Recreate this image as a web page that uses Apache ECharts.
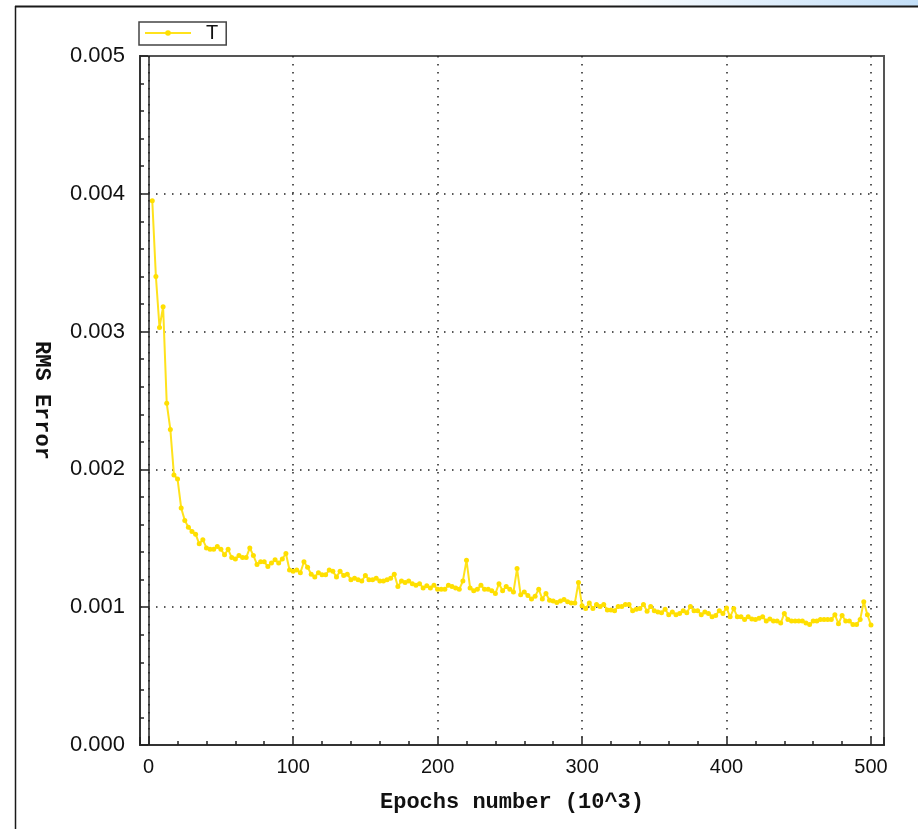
<!DOCTYPE html>
<html>
<head>
<meta charset="utf-8">
<script src="https://cdn.jsdelivr.net/npm/echarts@6.0.0/dist/echarts.min.js"></script>
<style>
  html, body { margin: 0; padding: 0; background: #fff; }
  #chart { width: 918px; height: 829px; }
</style>
</head>
<body>
<div id="chart"></div>
<script>
// ---- Data ----
const seriesName = 'T';
const epochStep = 2.5;           // sampling step of the epochs (10^3)
const rmsError = [
  0.00395, 0.00340, 0.00303, 0.00318, 0.00248, 0.00229, 0.00196, 0.00193, 0.00172, 0.00163,
  0.00158, 0.00155, 0.00153, 0.00146, 0.00149, 0.00143, 0.00142, 0.00142, 0.00144, 0.00142,
  0.00138, 0.00142, 0.00136, 0.00135, 0.001375, 0.00136, 0.00136, 0.00143, 0.001375, 0.00131,
  0.00133, 0.00133, 0.001295, 0.00132, 0.001345, 0.00132, 0.00135, 0.00139, 0.00127, 0.00126,
  0.00127, 0.00125, 0.00133, 0.00129, 0.00124, 0.00122, 0.00125, 0.001235, 0.001235, 0.00127,
  0.00126, 0.00122, 0.00126, 0.00123, 0.00124, 0.00120, 0.00121, 0.00120, 0.00119, 0.00123,
  0.00120, 0.00120, 0.00121, 0.00119, 0.00119, 0.00120, 0.00121, 0.00124, 0.00115, 0.00119,
  0.00118, 0.00119, 0.00117, 0.00116, 0.00117, 0.00114, 0.001155, 0.00114, 0.00116, 0.00113,
  0.00113, 0.00113, 0.00116, 0.00115, 0.00114, 0.00113, 0.00119, 0.00134, 0.00114, 0.00112,
  0.00113, 0.00116, 0.00113, 0.00113, 0.00112, 0.00110, 0.00117, 0.00112, 0.00115, 0.00113,
  0.00111, 0.00128, 0.00109, 0.00111, 0.001085, 0.00106, 0.00108, 0.00113, 0.00106, 0.00110,
  0.00105, 0.001045, 0.001035, 0.001045, 0.001055, 0.00104, 0.00103, 0.00103, 0.00118, 0.00101,
  0.00099, 0.00103, 0.00099, 0.00102, 0.001005, 0.00102, 0.00098, 0.00098, 0.000975, 0.001005,
  0.001005, 0.00102, 0.00102, 0.000975, 0.000985, 0.00099, 0.00102, 0.00097, 0.001005, 0.000975,
  0.000965, 0.00096, 0.000985, 0.000945, 0.000965, 0.000945, 0.000955, 0.000975, 0.00096, 0.001005,
  0.000975, 0.000975, 0.000945, 0.000965, 0.000955, 0.00093, 0.00094, 0.000975, 0.000955, 0.000995,
  0.00093, 0.00099, 0.00093, 0.00093, 0.00091, 0.00093, 0.000915, 0.00091, 0.00092, 0.00093,
  0.00090, 0.000915, 0.00090, 0.00090, 0.000885, 0.000955, 0.00091, 0.00090, 0.00090, 0.00090,
  0.00090, 0.000885, 0.000875, 0.00090, 0.00090, 0.00091, 0.00091, 0.00091, 0.00091, 0.000945,
  0.00088, 0.00094, 0.00090, 0.00090, 0.000875, 0.000875, 0.00091, 0.00104, 0.000945, 0.00087
];
const xAxisRange = [-6, 509];
const yAxisRange = [0, 0.005];
const xAxisTitle = 'Epochs number (10^3)';
const yAxisTitle = 'RMS Error';

// ---- Build ----
const points = rmsError.map((v, i) => [(i + 1) * epochStep, v]);

const dotted = { color: '#222', width: 1.5, type: [1.5, 6.5] };
const chart = echarts.init(document.getElementById('chart'), null, { renderer: 'canvas' });

chart.setOption({
  animation: false,
  backgroundColor: '#fff',
  graphic: [
    {
      type: 'rect', silent: true, z: 0,
      shape: { x: 600, y: 0, width: 318, height: 6 },
      style: {
        fill: new echarts.graphic.LinearGradient(0, 0, 1, 0, [
          { offset: 0, color: '#ffffff' },
          { offset: 1, color: '#c3dff8' }
        ])
      }
    },
    { type: 'line', silent: true, shape: { x1: 15, y1: 6.5, x2: 918, y2: 6.5 }, style: { stroke: '#1a1a1a', lineWidth: 2 } },
    { type: 'line', silent: true, shape: { x1: 15.5, y1: 6, x2: 15.5, y2: 829 }, style: { stroke: '#1a1a1a', lineWidth: 1.5 } }
  ],
  legend: {
    data: [{ name: seriesName, itemStyle: { color: '#ffe000' } }],
    left: 139, top: 22,
    orient: 'horizontal',
    borderColor: '#444', borderWidth: 1.5,
    padding: [1, 8, 2, 5],
    itemWidth: 46, itemHeight: 7,
    textStyle: { fontFamily: 'Liberation Sans', fontSize: 20, color: '#111', padding: [0, 0, 0, 10] }
  },
  grid: {
    left: 140, right: 34, top: 56, bottom: 84,
    show: true, borderColor: '#555', borderWidth: 2,
    containLabel: false
  },
  xAxis: {
    type: 'value',
    min: xAxisRange[0], max: xAxisRange[1],
    splitNumber: 5,
    name: xAxisTitle,
    nameLocation: 'middle',
    nameGap: 46,
    nameTextStyle: { fontFamily: 'Liberation Mono', fontWeight: 'bold', fontSize: 22, color: '#111' },
    axisLine: { show: true, onZero: false, lineStyle: { color: '#333', width: 2 } },
    axisTick: { show: true, inside: true, length: 8, lineStyle: { color: '#222', width: 1.5 } },
    minorTick: { show: true, splitNumber: 5, length: 4, lineStyle: { color: '#222', width: 1.5 } },
    axisLabel: {
      fontFamily: 'Liberation Sans', fontSize: 20, color: '#111', margin: 12,
      showMinLabel: false, showMaxLabel: false
    },
    splitLine: { show: true, showMinLine: false, showMaxLine: false, lineStyle: dotted },
    minorSplitLine: { show: false }
  },
  yAxis: {
    type: 'value',
    min: yAxisRange[0], max: yAxisRange[1],
    splitNumber: 5,
    name: yAxisTitle,
    nameLocation: 'middle',
    nameRotate: -90,
    nameGap: 87,
    nameTextStyle: { fontFamily: 'Liberation Mono', fontWeight: 'bold', fontSize: 22, color: '#111' },
    axisLine: { show: true, onZero: false, lineStyle: { color: '#333', width: 2 } },
    axisTick: { show: true, inside: true, length: 8, lineStyle: { color: '#222', width: 1.5 } },
    minorTick: { show: true, splitNumber: 5, length: 4, lineStyle: { color: '#222', width: 1.5 } },
    axisLabel: {
      fontFamily: 'Liberation Sans', fontSize: 22, color: '#111', margin: 15,
      formatter: v => v.toFixed(3)
    },
    splitLine: { show: true, showMinLine: false, showMaxLine: false, lineStyle: dotted }
  },
  series: [{
    name: seriesName,
    type: 'line',
    data: points,
    symbol: 'circle',
    symbolSize: 5,
    showSymbol: true,
    lineStyle: { color: '#ffe21c', width: 2 },
    itemStyle: { color: '#ffdf00' },
    markLine: {
      silent: true,
      symbol: ['none', 'none'],
      label: { show: false },
      lineStyle: { color: '#222', width: 1.5, type: 'solid' },
      data: [{ xAxis: 0 }]
    }
  }]
});
</script>
</body>
</html>
